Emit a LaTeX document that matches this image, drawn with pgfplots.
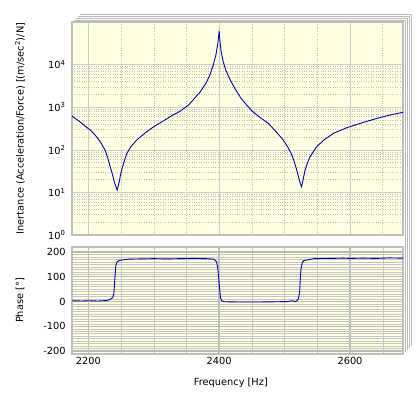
\documentclass[border=0pt]{standalone}
\usepackage{pgfplots}
\pgfplotsset{compat=1.18}
\usepackage{fontspec}
\setmainfont{DejaVu Sans}
\definecolor{bgy}{RGB}{255,255,225}
\definecolor{curve}{RGB}{0,0,170}
\definecolor{frm}{RGB}{190,190,190}
\begin{document}
\fontsize{9.8bp}{11.5bp}\selectfont
\begin{tikzpicture}[x=1bp,y=1bp]
\path[use as bounding box] (0,0) rectangle (417,-397);
% stacked-frame decoration
\foreach \k in {1,2,3,4}{
  \draw[gray!55, line width=0.7bp] (72+2*\k,-22+2*\k) -- (403+2*\k,-22+2*\k) -- (403+2*\k,-354+2*\k);
}
\pgfplotsset{
  common/.style={
    scale only axis, width=331bp,
    xmin=2175, xmax=2681,
    axis background/.style={fill=bgy},
    axis line style={draw=frm, line width=2bp},
    tick style={draw=none},
    xtick={2200,2400,2600},
    minor xtick={2250,2300,2350,2450,2500,2550,2650},
    grid=both,
    yticklabel style={xshift=-3bp},
    ylabel style={at={(axis description cs:-0.157,0.5)}, anchor=center},
  }
}
\begin{axis}[common, name=top, at={(72bp,-235bp)}, anchor=south west, height=213bp,
  ymode=log, ymin=1, ymax=1e5,
  ytick={1,10,100,1000,10000},
  yticklabels={10\textsuperscript{0},10\textsuperscript{1},10\textsuperscript{2},10\textsuperscript{3},10\textsuperscript{4}},
  xticklabels={},
  major grid style={gray!40, line width=0.6bp},
  minor grid style={gray!50, dotted, line width=0.5bp},
  ylabel={Inertance (Acceleration/Force) [(m/sec\textsuperscript{2})/N]},
]
\addplot[curve, line width=0.9bp] coordinates {
(2175,620) (2185,480) (2195,360) (2203,290) (2210,225) (2215,180) (2220,140)
(2226,95) (2230,62) (2233,42) (2237,26) (2240,17) (2244,11.4) (2247,17)
(2249,25) (2251,34) (2255,55) (2259,83) (2265,118) (2274,170) (2287,250)
(2300,350) (2315,480) (2328,640) (2340,800) (2353,1120) (2362,1600)
(2371,2300) (2380,3700) (2386,5800) (2391,9800) (2395,17000) (2398,32000)
(2400,62000) (2401,38000) (2403,20000) (2406,12000) (2410,7500) (2417,4300)
(2425,2600) (2433,1650) (2442,1120) (2450,820) (2462,580) (2475,420)
(2487,265) (2498,170) (2505,115) (2510,82) (2514,57) (2518,36) (2521,24)
(2524,16) (2526,13.6) (2528,19) (2531,32) (2535,50) (2539,69) (2549,118)
(2560,170) (2575,245) (2595,330) (2616,420) (2640,540) (2660,650) (2681,760)
};
\end{axis}
\begin{axis}[common, name=bot, at={(72bp,-354bp)}, anchor=south west, height=107bp,
  ymin=-212, ymax=220,
  ytick={-200,-100,0,100,200},
  yticklabels={-200,-100,0,100,200},
  minor y tick num=9,
  xticklabels={2200,2400,2600},
  major grid style={gray!55, line width=1.4bp},
  minor grid style={gray!45, line width=0.4bp},
  ylabel={Phase [°]},
  xlabel={Frequency [Hz]},
  xlabel style={at={(axis description cs:0.48,-0.27)}, anchor=center},
]
\addplot[curve, line width=0.9bp] coordinates {
(2175,3) (2190,2) (2200,3) (2215,2) (2228,4) (2233,8) (2237,15) (2239,30)
(2240,70) (2241,110) (2242,145) (2244,160) (2247,165) (2252,168) (2262,171)
(2280,172) (2300,173) (2320,172) (2340,173) (2360,174) (2380,173) (2392,171)
(2396,160) (2398,130) (2400,70) (2402,15) (2404,3) (2408,-1) (2430,-2)
(2460,-2) (2490,-1) (2505,0) (2512,3) (2516,-1) (2519,4) (2521,10) (2523,40)
(2524,90) (2525,130) (2527,158) (2530,166) (2537,169) (2545,173) (2570,174)
(2590,175) (2600,174) (2620,175) (2640,174) (2660,176) (2681,175)
};
\end{axis}
\end{tikzpicture}
\end{document}
